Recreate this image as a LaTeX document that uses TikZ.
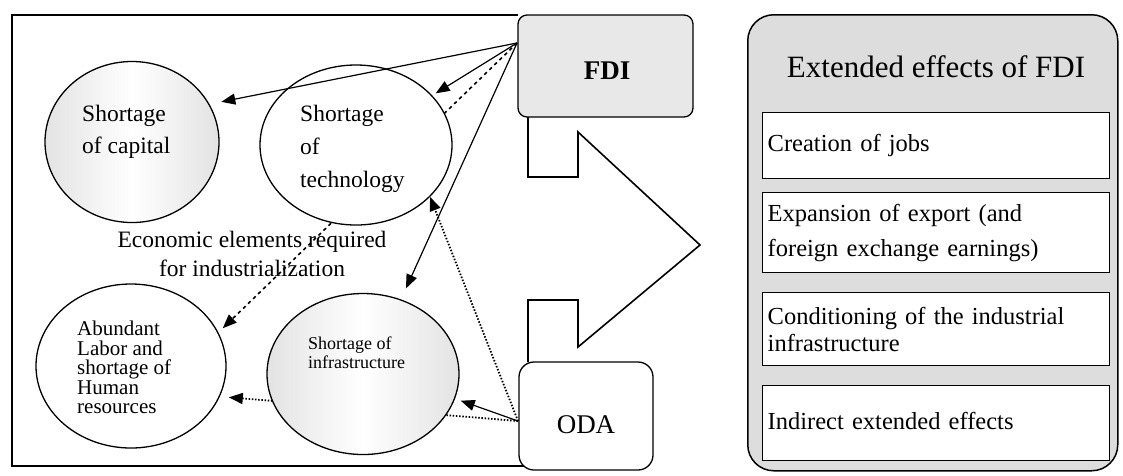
\documentclass[tikz,border=0pt]{standalone}
\usepackage{fontspec}
\setmainfont{Liberation Serif}
\usetikzlibrary{arrows.meta,shapes.geometric,calc}
\pgfdeclarelayer{background}
\pgfsetlayers{background,main}

\begin{document}
\begin{tikzpicture}[x=1pt,y=-1pt,
  bubble/.style={ellipse, draw, line width=1.3pt, fill=white, inner sep=0pt},
  shadedbubble/.style={bubble, left color=gray!22, right color=gray!22, middle color=white},
  lbl/.style={inner sep=0pt, align=left, anchor=north west},
  fx/.style={line width=1.2pt, -{Triangle[length=14pt,width=11pt]}},
  dotfx/.style={fx, line width=1.8pt, dash pattern=on 1.5pt off 1.7pt},
  dashfx/.style={fx, line width=1.6pt, dash pattern=on 3.5pt off 3.5pt},
  source/.style={draw, line width=1.3pt, rounded corners=9pt},
  effect/.style={draw, line width=1.4pt, fill=white, minimum width=347pt,
    text width=337pt, align=left, inner xsep=5pt, inner ysep=3pt,
    anchor=north west},
  frame/.style={line width=1.5pt}
]
\useasboundingbox (0,0) rectangle (1123,475);

% ---------- right-hand panel: extended effects ----------
\node[draw, line width=1.5pt, rounded corners=26pt, fill=gray!27,
      minimum width=370pt, minimum height=456pt, anchor=north west]
      (panel) at (747,14) {};
\node[font=\fontsize{31}{36}\selectfont] (paneltitle) at (936,67)
      {Extended effects of FDI};
\node[effect, minimum height=66pt, font=\fontsize{24.5}{27}\selectfont]
      (jobs) at (762,112) {Creation of jobs};
\node[effect, minimum height=80pt, font=\fontsize{24.5}{35}\selectfont]
      (export) at (762,192) {Expansion of export (and\\foreign exchange earnings)};
\node[effect, minimum height=73pt, font=\fontsize{24.5}{27}\selectfont]
      (infraeff) at (762,292) {Conditioning of the industrial\\infrastructure};
\node[effect, minimum height=75pt, font=\fontsize{24.5}{27}\selectfont]
      (indirect) at (762,385) {\raisebox{4pt}{Indirect extended effects}};

% ---------- left frame (open on the right) ----------
\draw[frame] (518,15) -| (12,466) -- (529,466);

% ---------- block arrow joining FDI and ODA ----------
\draw[line width=1.6pt, fill=white, line join=miter]
  (528,117) -- (528,177) -- (578,177) -- (578,132) -- (700,245)
  -- (578,347) -- (578,300) -- (528,300) -- (528,362);

% ---------- sources ----------
\node[source, fill=gray!18, minimum width=175pt, minimum height=102pt]
      (fdi) at (605.5,66) {};
\node[font=\fontsize{27}{30}\selectfont\bfseries] (fdilabel) at (607,71) {FDI};
\node[source, fill=white, rounded corners=15pt, minimum width=134pt,
      minimum height=108pt] (oda) at (586,416) {};
\node[font=\fontsize{27}{30}\selectfont] (odalabel) at (586,425) {ODA};
\coordinate (fdiport) at (517,43);
\coordinate (odaport) at (518,421);

% ---------- economic elements ----------
\node[shadedbubble, minimum width=174pt, minimum height=161pt] (cap) at (132,142) {};
\node[bubble, minimum width=192pt, minimum height=160pt] (tech) at (356,145) {};
\node[bubble, minimum width=190pt, minimum height=164pt] (abl) at (131,366) {};
\node[shadedbubble, minimum width=192pt, minimum height=161pt] (infra) at (363,374) {};

\node[lbl, font=\fontsize{23.5}{32}\selectfont] (captext) at (82,105)
      {Shortage\\of capital};
\node[lbl, font=\fontsize{23.5}{33}\selectfont] (techtext) at (300,105)
      {Shortage\\of\\technology};
\node[lbl, font=\fontsize{21}{19.5}\selectfont] (abltext) at (77,321)
      {Abundant\\Labor and\\shortage of\\Human\\resources};
\node[lbl, font=\fontsize{18}{19}\selectfont] (infratext) at (308,337)
      {Shortage of\\infrastructure};
\node[inner sep=0pt, align=center, anchor=north, font=\fontsize{23.5}{29}\selectfont]
      (econ) at (252,231) {Economic elements required\\for industrialization};

% ---------- effects of FDI and ODA ----------
\begin{pgfonlayer}{background}
  \draw[dashfx, shorten >=6pt] (fdiport) -- (abl.21);
  \draw[dotfx, shorten >=9pt] (odaport) -- (abl.-19);
  \draw[dotfx] (odaport) -- (tech.-35);
\end{pgfonlayer}
\draw[fx, shorten >=12pt] (fdiport) -- (cap.26);
\draw[fx, shorten >=4pt] (fdiport) -- (tech.33);
\draw[fx, shorten >=12pt] (fdiport) -- (infra.63);
\draw[fx, shorten >=6pt] (odaport) -- (infra.-15);
\end{tikzpicture}
\end{document}
